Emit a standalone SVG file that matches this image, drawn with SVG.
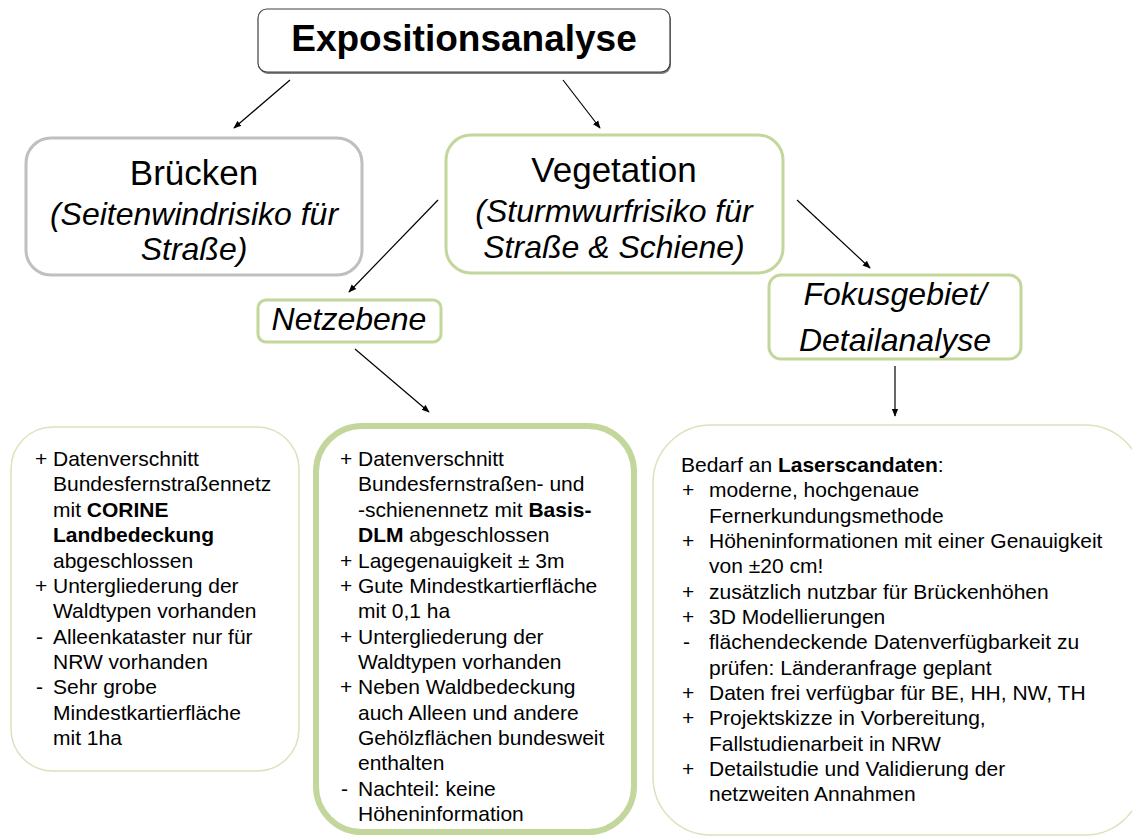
<svg xmlns="http://www.w3.org/2000/svg" width="1132" height="836" viewBox="0 0 1132 836">
<style>
text{font-family:"Liberation Sans",Arial,sans-serif;fill:#000}
.body{font-size:21px}
.head{font-size:35px;text-anchor:middle}
.it{font-size:32px;font-style:italic;text-anchor:middle}
.b{font-weight:bold}
.green{fill:#fff;stroke:#c3d69b;stroke-width:3}
.thin{fill:#fff;stroke:#d7e4bd;stroke-width:1.5}
.conn{stroke:#000;stroke-width:1.2;fill:none;marker-end:url(#ah)}
</style>
<defs>
<marker id="ah" viewBox="0 0 10 10" refX="9" refY="5" markerWidth="8" markerHeight="8" markerUnits="userSpaceOnUse" orient="auto">
<path d="M0,1 L10,5 L0,9 Z" fill="#000"/>
</marker>
</defs>
<rect width="1132" height="836" fill="#fff"/>

<g id="title">
<rect x="259" y="11" width="412" height="63" rx="9" fill="#7f7f7f"/>
<rect x="258" y="9" width="412" height="63" rx="9" fill="#fff" stroke="#404040" stroke-width="1.2"/>
<text x="464" y="51" class="b" font-size="37" text-anchor="middle">Expositionsanalyse</text>
</g>

<g id="bruecken">
<rect x="26" y="138" width="336" height="137" rx="25" fill="#fff" stroke="#bfbfbf" stroke-width="3"/>
<text x="194" y="185" class="head">Brücken</text>
<text x="194" y="225" class="it">(Seitenwindrisiko für</text>
<text x="194" y="260" class="it">Straße)</text>
</g>

<g id="vegetation">
<rect x="446" y="135" width="337" height="138" rx="25" class="green"/>
<text x="614" y="182" class="head">Vegetation</text>
<text x="614" y="222" class="it">(Sturmwurfrisiko für</text>
<text x="614" y="258" class="it">Straße &amp; Schiene)</text>
</g>

<g id="netzebene">
<rect x="258" y="300" width="183" height="42" rx="8" class="green"/>
<text x="349" y="330" class="it" font-size="31">Netzebene</text>
</g>

<g id="fokus">
<rect x="769" y="275" width="252" height="84" rx="12" class="green"/>
<text x="895" y="305" class="it" font-size="31">Fokusgebiet/</text>
<text x="895" y="351" class="it" font-size="31">Detailanalyse</text>
</g>

<g id="connectors">
<line x1="290" y1="80" x2="234" y2="128" class="conn"/>
<line x1="563" y1="80" x2="600" y2="128" class="conn"/>
<line x1="438" y1="200" x2="349" y2="292" class="conn"/>
<line x1="797" y1="200" x2="870" y2="268" class="conn"/>
<line x1="355" y1="349" x2="429" y2="412" class="conn"/>
<line x1="895" y1="366" x2="895" y2="416" class="conn"/>
</g>

<g id="left-box">
<rect x="11" y="427" width="288" height="344" rx="42" class="thin"/>
<g class="body">
<text x="35" y="466">+</text><text x="53" y="466">Datenverschnitt</text>
<text x="53" y="491">Bundesfernstraßennetz</text>
<text x="53" y="517">mit <tspan class="b">CORINE</tspan></text>
<text x="53" y="542" class="b">Landbedeckung</text>
<text x="53" y="568">abgeschlossen</text>
<text x="35" y="593">+</text><text x="53" y="593">Untergliederung der</text>
<text x="53" y="618">Waldtypen vorhanden</text>
<text x="36" y="644">-</text><text x="53" y="644">Alleenkataster nur für</text>
<text x="53" y="669">NRW vorhanden</text>
<text x="36" y="694">-</text><text x="53" y="694">Sehr grobe</text>
<text x="53" y="720">Mindestkartierfläche</text>
<text x="53" y="745">mit 1ha</text>
</g>
</g>

<g id="middle-box">
<rect x="316" y="426" width="318" height="406" rx="46" fill="#fff" stroke="#c3d69b" stroke-width="6"/>
<g class="body">
<text x="340" y="466">+</text><text x="358" y="466">Datenverschnitt</text>
<text x="358" y="491">Bundesfernstraßen- und</text>
<text x="358" y="517">-schienennetz mit <tspan class="b">Basis-</tspan></text>
<text x="358" y="542"><tspan class="b">DLM</tspan> abgeschlossen</text>
<text x="340" y="568">+</text><text x="358" y="568">Lagegenauigkeit ± 3m</text>
<text x="340" y="593">+</text><text x="358" y="593">Gute Mindestkartierfläche</text>
<text x="358" y="618">mit 0,1 ha</text>
<text x="340" y="644">+</text><text x="358" y="644">Untergliederung der</text>
<text x="358" y="669">Waldtypen vorhanden</text>
<text x="340" y="694">+</text><text x="358" y="694">Neben Waldbedeckung</text>
<text x="358" y="720">auch Alleen und andere</text>
<text x="358" y="745">Gehölzflächen bundesweit</text>
<text x="358" y="770">enthalten</text>
<text x="341" y="796">-</text><text x="358" y="796">Nachteil: keine</text>
<text x="358" y="821">Höheninformation</text>
</g>
</g>

<g id="right-box">
<rect x="653" y="425" width="490" height="410" rx="58" class="thin"/>
<g class="body">
<text x="681" y="472">Bedarf an <tspan class="b">Laserscandaten</tspan>:</text>
<text x="682" y="497">+</text><text x="709" y="497">moderne, hochgenaue</text>
<text x="709" y="523">Fernerkundungsmethode</text>
<text x="682" y="548">+</text><text x="709" y="548">Höheninformationen mit einer Genauigkeit</text>
<text x="709" y="573">von ±20 cm!</text>
<text x="682" y="599">+</text><text x="709" y="599">zusätzlich nutzbar für Brückenhöhen</text>
<text x="682" y="624">+</text><text x="709" y="624">3D Modellierungen</text>
<text x="683" y="649">-</text><text x="709" y="649">flächendeckende Datenverfügbarkeit zu</text>
<text x="709" y="675">prüfen: Länderanfrage geplant</text>
<text x="682" y="700">+</text><text x="709" y="700">Daten frei verfügbar für BE, HH, NW, TH</text>
<text x="682" y="725">+</text><text x="709" y="725">Projektskizze in Vorbereitung,</text>
<text x="709" y="751">Fallstudienarbeit in NRW</text>
<text x="682" y="776">+</text><text x="709" y="776">Detailstudie und Validierung der</text>
<text x="709" y="801">netzweiten Annahmen</text>
</g>
</g>
</svg>
